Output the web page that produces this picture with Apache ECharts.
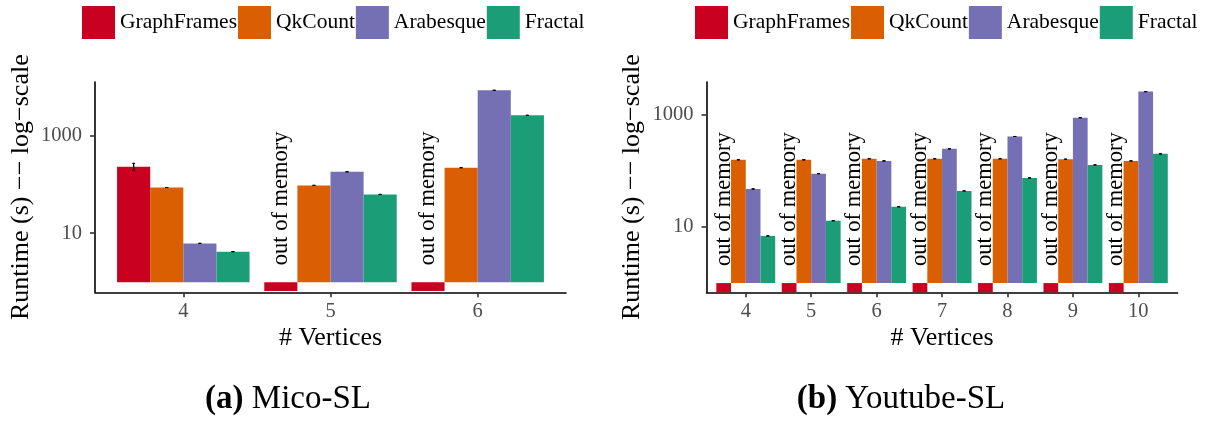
<!DOCTYPE html>
<html><head><meta charset="utf-8">
<script src="https://cdn.jsdelivr.net/npm/echarts@6/dist/echarts.min.js"></script>
<style>html,body{margin:0;padding:0;background:#fff}#c{width:1206px;height:422px}</style>
</head><body><div id="c"></div>
<script>
// ---------- data ----------
const seriesNames = ['GraphFrames', 'QkCount', 'Arabesque', 'Fractal'];
const colors = ['#CA0020', '#D95F02', '#7570B3', '#1B9E77'];

// (a) Mico-SL
const micoVertices = ['4', '5', '6'];
const micoGraphFrames = [229, 'OOM', 'OOM'];
const micoQkCount = [86, 95, 218];
const micoArabesque = [6.2, 181, 8340];
const micoFractal = [4.2, 62, 2570];
const micoErrRanges = { GraphFrames: [[195, 268], null, null] };
const micoYTicks = [10, 1000];
const micoYRange = [0.62, 12350];

// (b) Youtube-SL
const ytVertices = ['4', '5', '6', '7', '8', '9', '10'];
const ytGraphFrames = ['OOM', 'OOM', 'OOM', 'OOM', 'OOM', 'OOM', 'OOM'];
const ytQkCount = [159, 159, 166, 166, 166, 163, 152];
const ytArabesque = [48, 90, 152, 250, 415, 898, 2627];
const ytFractal = [6.95, 13, 23.1, 44.2, 75.5, 129, 203];
const ytErrRanges = {};
const ytYTicks = [10, 1000];
const ytYRange = [0.684, 3900];

const oomStub = 0.66;      // drawn stub below 1 for "out of memory"
const oomText = 'out of memory';

// ---------- chart ----------
const FONT = 'Liberation Serif';
const charts = [
  { vertices: micoVertices, values: [micoGraphFrames, micoQkCount, micoArabesque, micoFractal],
    err: micoErrRanges, yTicks: micoYTicks, yRange: micoYRange,
    grid: { left: 95, top: 82, width: 471, height: 210.3 } },
  { vertices: ytVertices, values: [ytGraphFrames, ytQkCount, ytArabesque, ytFractal],
    err: ytErrRanges, yTicks: ytYTicks, yRange: ytYRange,
    grid: { left: 706.5, top: 82, width: 471.1, height: 210.3 } }
];

const grids = [], xAxes = [], yAxes = [], series = [];
charts.forEach((c, k) => {
  const xs = c.vertices.map(Number);
  grids.push(Object.assign({ containLabel: false }, c.grid));
  xAxes.push({
    type: 'value', gridIndex: k, min: xs[0] - 0.6, max: xs[xs.length - 1] + 0.6,
    name: '# Vertices', nameLocation: 'middle', nameGap: 33,
    nameTextStyle: { fontFamily: FONT, fontSize: 26, color: '#000' },
    splitLine: { show: false },
    axisLine: { show: true, onZero: false, lineStyle: { color: '#000', width: 1.6 } },
    axisTick: { show: true, length: 5, customValues: xs, lineStyle: { color: '#333', width: 1.6 } },
    axisLabel: { customValues: xs, formatter: v => String(Math.round(v)), margin: 9,
      fontFamily: FONT, fontSize: 20.5, color: '#4d4d4d' }
  });
  yAxes.push({
    type: 'log', logBase: 10, gridIndex: k, min: c.yRange[0], max: c.yRange[1],
    name: 'Runtime (s) \u2212\u2212 log\u2212scale', nameLocation: 'middle', nameGap: 61, nameRotate: 90,
    nameTextStyle: { fontFamily: FONT, fontSize: 26, color: '#000' },
    splitLine: { show: false },
    axisLine: { show: true, lineStyle: { color: '#000', width: 1.6 } },
    axisTick: { show: true, length: 5, customValues: c.yTicks, lineStyle: { color: '#333', width: 1.6 } },
    axisLabel: { customValues: c.yTicks, formatter: v => String(Math.round(v)), margin: 13,
      fontFamily: FONT, fontSize: 20.5, color: '#4d4d4d' }
  });
  const errData = [];
  seriesNames.forEach((name, s) => {
    const vals = c.values[s];
    series.push({
      type: 'bar', name, xAxisIndex: k, yAxisIndex: k,
      barGap: '0%', barCategoryGap: '10%',
      itemStyle: { color: colors[s] },
      label: { show: false, formatter: oomText, position: 'top', distance: 17, rotate: 90,
        align: 'left', verticalAlign: 'middle', fontFamily: FONT, fontSize: 22.5, color: '#000' },
      emphasis: { disabled: true },
      data: vals.map((v, i) => v === 'OOM'
        ? { value: [xs[i], oomStub], label: { show: true } }
        : { value: [xs[i], v] })
    });
    vals.forEach((v, i) => {
      if (v === 'OOM') return;
      const r = c.err[name] && c.err[name][i];
      errData.push([xs[i], r ? r[0] : v, r ? r[1] : v, s]);
    });
  });
  series.push({
    type: 'custom', xAxisIndex: k, yAxisIndex: k, z: 5,
    encode: { x: 0, y: [1, 2] },
    data: errData,
    renderItem: (params, api) => {
      const x = api.value(0), lo = api.value(1), hi = api.value(2), s = api.value(3);
      const band = api.coord([x + 0.5, lo])[0] - api.coord([x - 0.5, lo])[0];
      const bw = band * 0.9 / 4;
      const cx = api.coord([x, lo])[0] + (s - 1.5) * bw;
      const yLo = api.coord([x, lo])[1], yHi = api.coord([x, hi])[1];
      const cap = 1.5;
      return { type: 'group', children: [
        { type: 'line', shape: { x1: cx, y1: yLo + 0.6, x2: cx, y2: yHi - 0.6 }, style: { stroke: '#000', lineWidth: 1.3 } },
        { type: 'line', shape: { x1: cx - cap, y1: yLo, x2: cx + cap, y2: yLo }, style: { stroke: '#000', lineWidth: 1 } },
        { type: 'line', shape: { x1: cx - cap, y1: yHi, x2: cx + cap, y2: yHi }, style: { stroke: '#000', lineWidth: 1 } }
      ] };
    }
  });
});

const legendBase = {
  data: seriesNames, top: 6, orient: 'horizontal', icon: 'rect', padding: 0, width: 540,
  itemWidth: 33, itemHeight: 33, itemGap: 1, selectedMode: false,
  itemStyle: { borderWidth: 0 },
  textStyle: { fontFamily: FONT, fontSize: 21.5, color: '#000' }
};

const chart = echarts.init(document.getElementById('c'), null, { renderer: 'canvas' });
chart.setOption({
  animation: false,
  backgroundColor: '#fff',
  legend: [Object.assign({ left: 82 }, legendBase), Object.assign({ left: 695 }, legendBase)],
  grid: grids, xAxis: xAxes, yAxis: yAxes, series,
  graphic: [
    { type: 'text', x: 288, y: 399, style: { text: '{b|(a)} Mico-SL',
      rich: { b: { fontWeight: 'bold', fontFamily: FONT, fontSize: 33, fill: '#000' } },
      fontFamily: FONT, fontSize: 33, fill: '#000', align: 'center', verticalAlign: 'middle' } },
    { type: 'text', x: 901, y: 399, style: { text: '{b|(b)} Youtube-SL',
      rich: { b: { fontWeight: 'bold', fontFamily: FONT, fontSize: 33, fill: '#000' } },
      fontFamily: FONT, fontSize: 33, fill: '#000', align: 'center', verticalAlign: 'middle' } }
  ]
});
</script></body></html>
